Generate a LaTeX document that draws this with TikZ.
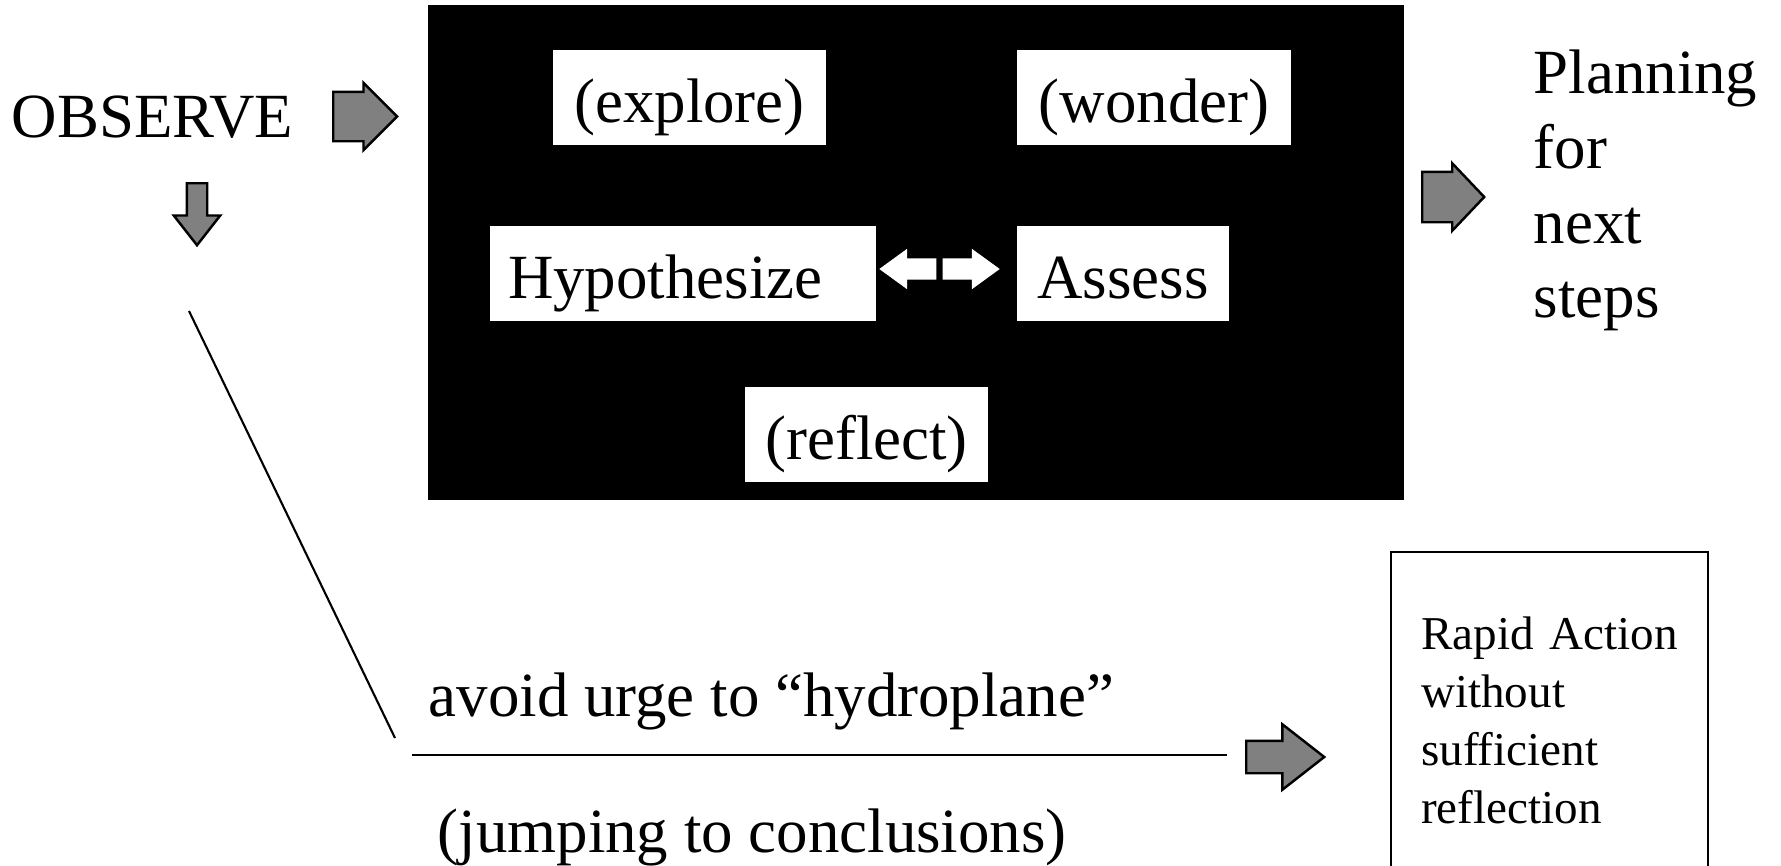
\documentclass[tikz,border=0pt]{standalone}
\usepackage{fontspec}
\setmainfont{Liberation Serif}
\usepackage{tikz}
\definecolor{arrowgray}{RGB}{128,128,128}
\usetikzlibrary{shapes.arrows}

\begin{document}
\begin{tikzpicture}[
  bigtext/.style={font=\fontsize{17.9}{21.3}\selectfont},
  stagebox/.style={bigtext, fill=white, inner sep=0pt, minimum height=0.95cm, text height=0.57cm, text depth=0.07cm},
  grayarrow/.style={single arrow, draw=black, line width=0.7pt, fill=arrowgray, inner xsep=0pt, anchor=tail},
  whitearrow/.style={single arrow, fill=white, inner xsep=0pt, inner ysep=0.10cm, minimum height=0.57cm, single arrow head extend=0.095cm, single arrow tip angle=72, anchor=tail},
  thinline/.style={line width=0.6pt}
]
  \useasboundingbox (0,0) rectangle (17.81,8.65);
  \clip (0,0) rectangle (17.81,8.65);

  %% Observe
  \node[bigtext, anchor=base west, inner sep=0pt] (observe) at (0.11,7.28) {OBSERVE};
  \node[grayarrow, minimum height=0.64cm, inner ysep=0.235cm, single arrow head extend=0.09cm, single arrow tip angle=90] (obs_right) at (3.32,7.485) {};
  \node[grayarrow, rotate=-90, minimum height=0.62cm, inner ysep=0.09cm, single arrow head extend=0.13cm, single arrow tip angle=76] (obs_down) at (1.97,6.83) {};

  %% Black frame with the stages
  \node[fill=black, minimum width=9.76cm, minimum height=4.95cm, inner sep=0pt] (frame) at (9.16,6.125) {};
  \node[stagebox, minimum width=2.73cm] (explore) at (6.895,7.675) {(explore)};
  \node[stagebox, minimum width=2.74cm] (wonder)  at (11.54,7.675) {(wonder)};
  \node[stagebox, text width=3.50cm, inner xsep=0.18cm, align=left] (hypo) at (6.83,5.915) {Hypothesize};
  \node[stagebox, minimum width=2.12cm] (assess)  at (11.23,5.915) {Assess};
  \node[stagebox, minimum width=2.43cm] (reflect) at (8.665,4.31) {(reflect)};
  \node[whitearrow, rotate=180] (back_arrow) at (9.37,5.96) {};
  \node[whitearrow] (fwd_arrow) at (9.42,5.96) {};

  %% Planning
  \node[grayarrow, minimum height=0.62cm, inner ysep=0.24cm, single arrow head extend=0.085cm, single arrow tip angle=93] (plan_arrow) at (14.21,6.68) {};
  \node[bigtext, align=left, anchor=north west, inner sep=0pt] (planning) at (15.33,8.16) {Planning\\for\\next\\steps};

  %% Hydroplane path
  \coordinate (diag_top) at (1.89,5.54);
  \coordinate (diag_end) at (3.95,1.27);
  \coordinate (rule_start) at (4.12,1.10);
  \coordinate (rule_end) at (12.27,1.10);
  \draw[thinline] (diag_top) -- (diag_end);
  \draw[thinline] (rule_start) -- (rule_end);
  \node[bigtext, anchor=base west, inner sep=0pt] (avoid) at (4.28,1.49) {avoid urge to “hydroplane”};
  \node[bigtext, anchor=base west, inner sep=0pt] (jumping) at (4.37,0.13) {(jumping to conclusions)};
  \node[grayarrow, minimum height=0.78cm, inner ysep=0.15cm, single arrow head extend=0.165cm, single arrow tip angle=76] (rapid_arrow) at (12.45,1.08) {};
  \node[draw, line width=0.7pt, anchor=north west, inner xsep=0.30cm, inner ysep=0.65cm, text width=2.57cm, align=left, font=\fontsize{13.4}{16.5}\selectfont] (rapid) at (13.90,3.14) {Rapid Action\\without\\sufficient\\reflection};
\end{tikzpicture}
\end{document}
